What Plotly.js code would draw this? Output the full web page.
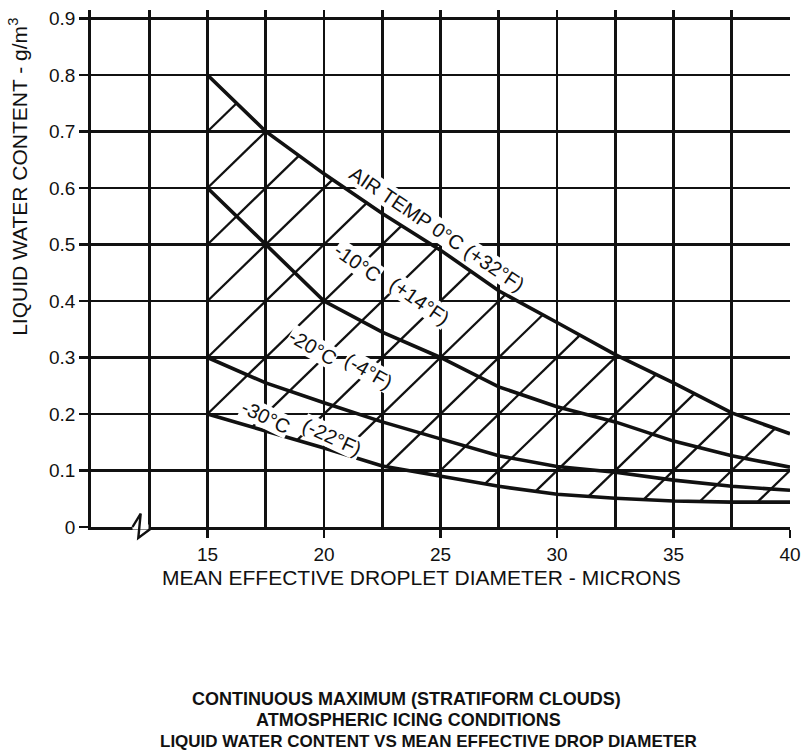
<!DOCTYPE html>
<html>
<head>
<meta charset="utf-8">
<script src="https://cdn.plot.ly/plotly-3.0.1.min.js"></script>
<style>html,body{margin:0;padding:0;background:#fff;}#chart{width:805px;height:755px;}</style>
</head>
<body>
<div id="chart"></div>
<script>
// Mean effective droplet diameter (microns)
const diameter = [15, 17.5, 20, 22.5, 25, 27.5, 30, 32.5, 35, 37.5, 40];
// Liquid water content (g/m^3) for each air temperature curve
const lwc0C   = [0.80, 0.70, 0.625, 0.555, 0.49, 0.418, 0.362, 0.305, 0.255, 0.202, 0.165];
const lwcM10C = [0.60, 0.50, 0.40, 0.345, 0.30, 0.248, 0.213, 0.186, 0.152, 0.126, 0.106];
const lwcM20C = [0.30, 0.255, 0.22, 0.186, 0.156, 0.126, 0.107, 0.097, 0.083, 0.072, 0.065];
const lwcM30C = [0.20, 0.17, 0.14, 0.108, 0.09, 0.072, 0.058, 0.051, 0.046, 0.044, 0.044];

const xTickVals = [15, 20, 25, 30, 35, 40];
const xTickText = ['15', '20', '25', '30', '35', '40'];
const yTickVals = [0, 0.1, 0.2, 0.3, 0.4, 0.5, 0.6, 0.7, 0.8, 0.9];
const yTickText = ['0', '0.1', '0.2', '0.3', '0.4', '0.5', '0.6', '0.7', '0.8', '0.9'];

const curveLabels = [
  {text: 'AIR TEMP 0°C (+32°F)', x: 24.85, y: 0.527, angle: 34},
  {text: '-10°C', x: 21.45, y: 0.468, angle: 35},
  {text: '(+14°F)', x: 24.1, y: 0.400, angle: 35},
  {text: '-20°C', x: 19.5, y: 0.318, angle: 30},
  {text: '(-4°F)', x: 21.9, y: 0.276, angle: 30},
  {text: '-30°C', x: 17.5, y: 0.194, angle: 26},
  {text: '(-22°F)', x: 20.35, y: 0.160, angle: 25}
];

// --- hatch: diagonals of the 2.5 x 0.1 grid cells, clipped between the 0°C and -30°C curves
function interp(xs, ys, x) {
  if (x <= xs[0]) return ys[0];
  for (let i = 1; i < xs.length; i++) {
    if (x <= xs[i]) {
      const t = (x - xs[i-1]) / (xs[i] - xs[i-1]);
      return ys[i-1] + t * (ys[i] - ys[i-1]);
    }
  }
  return ys[ys.length-1];
}
function root(fn, a, b) {
  if (fn(a) >= 0) return a;
  if (fn(b) <= 0) return b;
  for (let i = 0; i < 60; i++) {
    const m = (a + b) / 2;
    if (fn(m) < 0) a = m; else b = m;
  }
  return (a + b) / 2;
}
const xMin = diameter[0], xMax = diameter[diameter.length-1];
const cellW = 2.5, cellH = 0.1;
const hx = [], hy = [];
for (let k = -4; k <= 20; k++) {
  const line = x => (x / cellW - k) * cellH;
  const xLo = root(x => line(x) - interp(diameter, lwcM30C, x), xMin, xMax);
  const xHi = root(x => line(x) - interp(diameter, lwc0C, x), xMin, xMax);
  if (line(xLo) < interp(diameter, lwcM30C, xLo) - 1e-6) continue;
  if (xHi - xLo > 0.05) {
    hx.push(xLo, xHi, null);
    hy.push(line(xLo), line(xHi), null);
  }
}

const black = '#111';
const traces = [
  {x: hx, y: hy, mode: 'lines', line: {color: black, width: 2.3}, hoverinfo: 'skip', showlegend: false},
  {x: diameter, y: lwc0C, mode: 'lines', line: {color: black, width: 3.6}, name: '0°C', showlegend: false},
  {x: diameter, y: lwcM10C, mode: 'lines', line: {color: black, width: 3.6}, name: '-10°C', showlegend: false},
  {x: diameter, y: lwcM20C, mode: 'lines', line: {color: black, width: 3.6}, name: '-20°C', showlegend: false},
  {x: diameter, y: lwcM30C, mode: 'lines', line: {color: black, width: 3.6}, name: '-30°C', showlegend: false}
];

const font = 'Liberation Sans, Arial, sans-serif';
const annotations = curveLabels.map(l => ({
  text: l.text, x: l.x, y: l.y, xref: 'x', yref: 'y', showarrow: false,
  xanchor: 'center', yanchor: 'middle',
  textangle: l.angle, bgcolor: '#fff', borderpad: 0,
  font: {family: font, size: 20, color: black}
}));
// paper coords: plot spans px 91..790 horizontally, 10..527.5 vertically
const px = p => (p - 91) / 699;
const py = p => (527.5 - p) / 517.5;
annotations.push(
  {text: 'LIQUID WATER CONTENT - g/m<sup>3</sup>', xref: 'paper', yref: 'paper', x: px(18), y: py(177),
   xanchor: 'center', yanchor: 'middle',
   textangle: -90, showarrow: false, font: {family: font, size: 21, color: black}},
  {text: 'MEAN EFFECTIVE DROPLET DIAMETER - MICRONS', xref: 'paper', yref: 'paper', x: px(421), y: py(578),
   xanchor: 'center', yanchor: 'middle',
   showarrow: false, font: {family: font, size: 21, color: black}},
  {text: '<b>CONTINUOUS MAXIMUM (STRATIFORM CLOUDS)</b>', xref: 'paper', yref: 'paper', x: px(406), y: py(700),
   xanchor: 'center', yanchor: 'middle',
   showarrow: false, font: {family: font, size: 18, color: black}},
  {text: '<b>ATMOSPHERIC ICING CONDITIONS</b>', xref: 'paper', yref: 'paper', x: px(408), y: py(721),
   xanchor: 'center', yanchor: 'middle',
   showarrow: false, font: {family: font, size: 18, color: black}},
  {text: '<b>LIQUID WATER CONTENT VS MEAN EFFECTIVE DROP DIAMETER</b>', xref: 'paper', yref: 'paper', x: px(428), y: py(742),
   xanchor: 'center', yanchor: 'middle',
   showarrow: false, font: {family: font, size: 17, color: black}}
);

const layout = {
  width: 805, height: 755,
  margin: {l: 91, r: 15, t: 10, b: 227.5},
  paper_bgcolor: '#fff', plot_bgcolor: '#fff',
  showlegend: false,
  xaxis: {
    range: [10, 40], tickmode: 'array', tickvals: xTickVals, ticktext: xTickText,
    showgrid: true, gridcolor: black, gridwidth: 2.8,
    minor: {tick0: 10, dtick: 2.5, showgrid: true, gridcolor: black, gridwidth: 2.8, ticks: ''},
    showline: true, linecolor: black, linewidth: 2.8,
    ticks: 'outside', ticklen: 8, tickwidth: 2.6, tickcolor: black,
    zeroline: false, fixedrange: true,
    tickfont: {family: font, size: 19, color: black}
  },
  yaxis: {
    range: [0, 0.915], tickmode: 'array', tickvals: yTickVals, ticktext: yTickText,
    showgrid: true, gridcolor: black, gridwidth: 2.8,
    showline: true, linecolor: black, linewidth: 2.8,
    ticks: 'outside', ticklen: 9, tickwidth: 2.6, tickcolor: black,
    zeroline: false, fixedrange: true,
    tickfont: {family: font, size: 19, color: black}
  },
  shapes: [
    {type: 'line', xref: 'paper', yref: 'paper', x0: px(132.5), x1: px(148.5), y0: 0, y1: 0,
     line: {color: '#fff', width: 5}, layer: 'above'},
    {type: 'path', xref: 'paper', yref: 'paper',
     path: 'M ' + px(132.5) + ' 0 L ' + px(140.7) + ' ' + py(514) + ' L ' + px(138.3) + ' ' + py(538.5) +
           ' L ' + px(151.7) + ' ' + py(528.5),
     line: {color: black, width: 2.4}, layer: 'above'}
  ],
  annotations: annotations
};

Plotly.newPlot('chart', traces, layout, {staticPlot: true, displayModeBar: false});
</script>
</body>
</html>
